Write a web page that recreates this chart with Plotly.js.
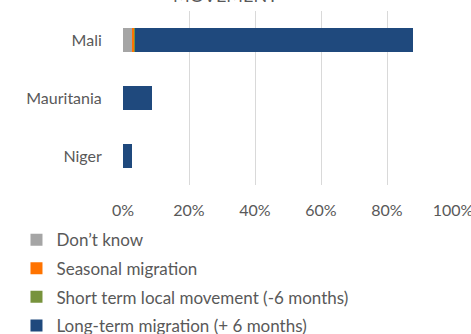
<!DOCTYPE html>
<html>
<head>
<meta charset="utf-8">
<script src="https://cdn.plot.ly/plotly-3.0.1.min.js"></script>
<style>html,body{margin:0;padding:0;background:#fff;}#chart{width:471px;height:334px;}</style>
</head>
<body>
<div id="chart"></div>
<script>
const countries = ["Mali", "Mauritania", "Niger"];
const seriesNames = ["Don’t know", "Seasonal migration", "Short term local movement (-6 months)", "Long-term migration (+ 6 months)"];
const dontKnow = [2.6, 0, 0];
const seasonal = [0.8, 0, 0];
const shortTerm = [0.3, 0, 0];
const longTerm = [84.3, 8.8, 2.7];
const xTicks = [0, 20, 40, 60, 80, 100];
const xTickLabels = ["0%", "20%", "40%", "60%", "80%", "100%"];
const colors = ["#a5a5a5", "#ff7300", "#77933c", "#1f497d"];
const titleText = "MOVEMENT";

const seriesValues = [dontKnow, seasonal, shortTerm, longTerm];
const traces = seriesValues.map((vals, i) => ({
  type: "bar",
  orientation: "h",
  y: countries,
  x: vals,
  name: seriesNames[i],
  legendgroup: "g" + i,
  marker: {color: colors[i], line: {width: 0}},
  hoverinfo: "x+y+name"
}));

const fam = "Lato, 'Open Sans', sans-serif";
const font = {family: fam, size: 16, color: "#595959"};
const layout = {
  width: 471, height: 334,
  margin: {l: 123, r: 18, t: 11, b: 149, autoexpand: false},
  paper_bgcolor: "#fff", plot_bgcolor: "#fff",
  font: font,
  annotations: [{text: titleText, xref: "paper", yref: "paper", x: 0.312, y: 1.09, xanchor: "center", yanchor: "middle", showarrow: false, font: {family: fam, size: 18, color: "#595959"}}],
  barmode: "stack",
  bargap: 0.595,
  xaxis: {range: [0, 100], tickmode: "array", tickvals: xTicks, ticktext: xTickLabels, ticklabeloverflow: "allow", showgrid: true, gridcolor: "#d9d9d9", gridwidth: 1, zeroline: false, showline: false, ticks: "outside", ticklen: 11, tickcolor: "rgba(0,0,0,0)", fixedrange: true},
  yaxis: {categoryorder: "array", categoryarray: countries, autorange: "reversed", showgrid: false, zeroline: false, showline: false, ticks: "outside", ticklen: 17, tickcolor: "rgba(0,0,0,0)"},
  showlegend: true,
  legend: {orientation: "v", traceorder: "grouped", tracegroupgap: 3.5, xref: "container", yref: "container", x: 0.035, y: 0.335, xanchor: "left", yanchor: "top", font: {family: fam, size: 17, color: "#595959"}, bgcolor: "rgba(0,0,0,0)"}
};
Plotly.newPlot("chart", traces, layout, {displayModeBar: false, staticPlot: true});
</script>
</body>
</html>
